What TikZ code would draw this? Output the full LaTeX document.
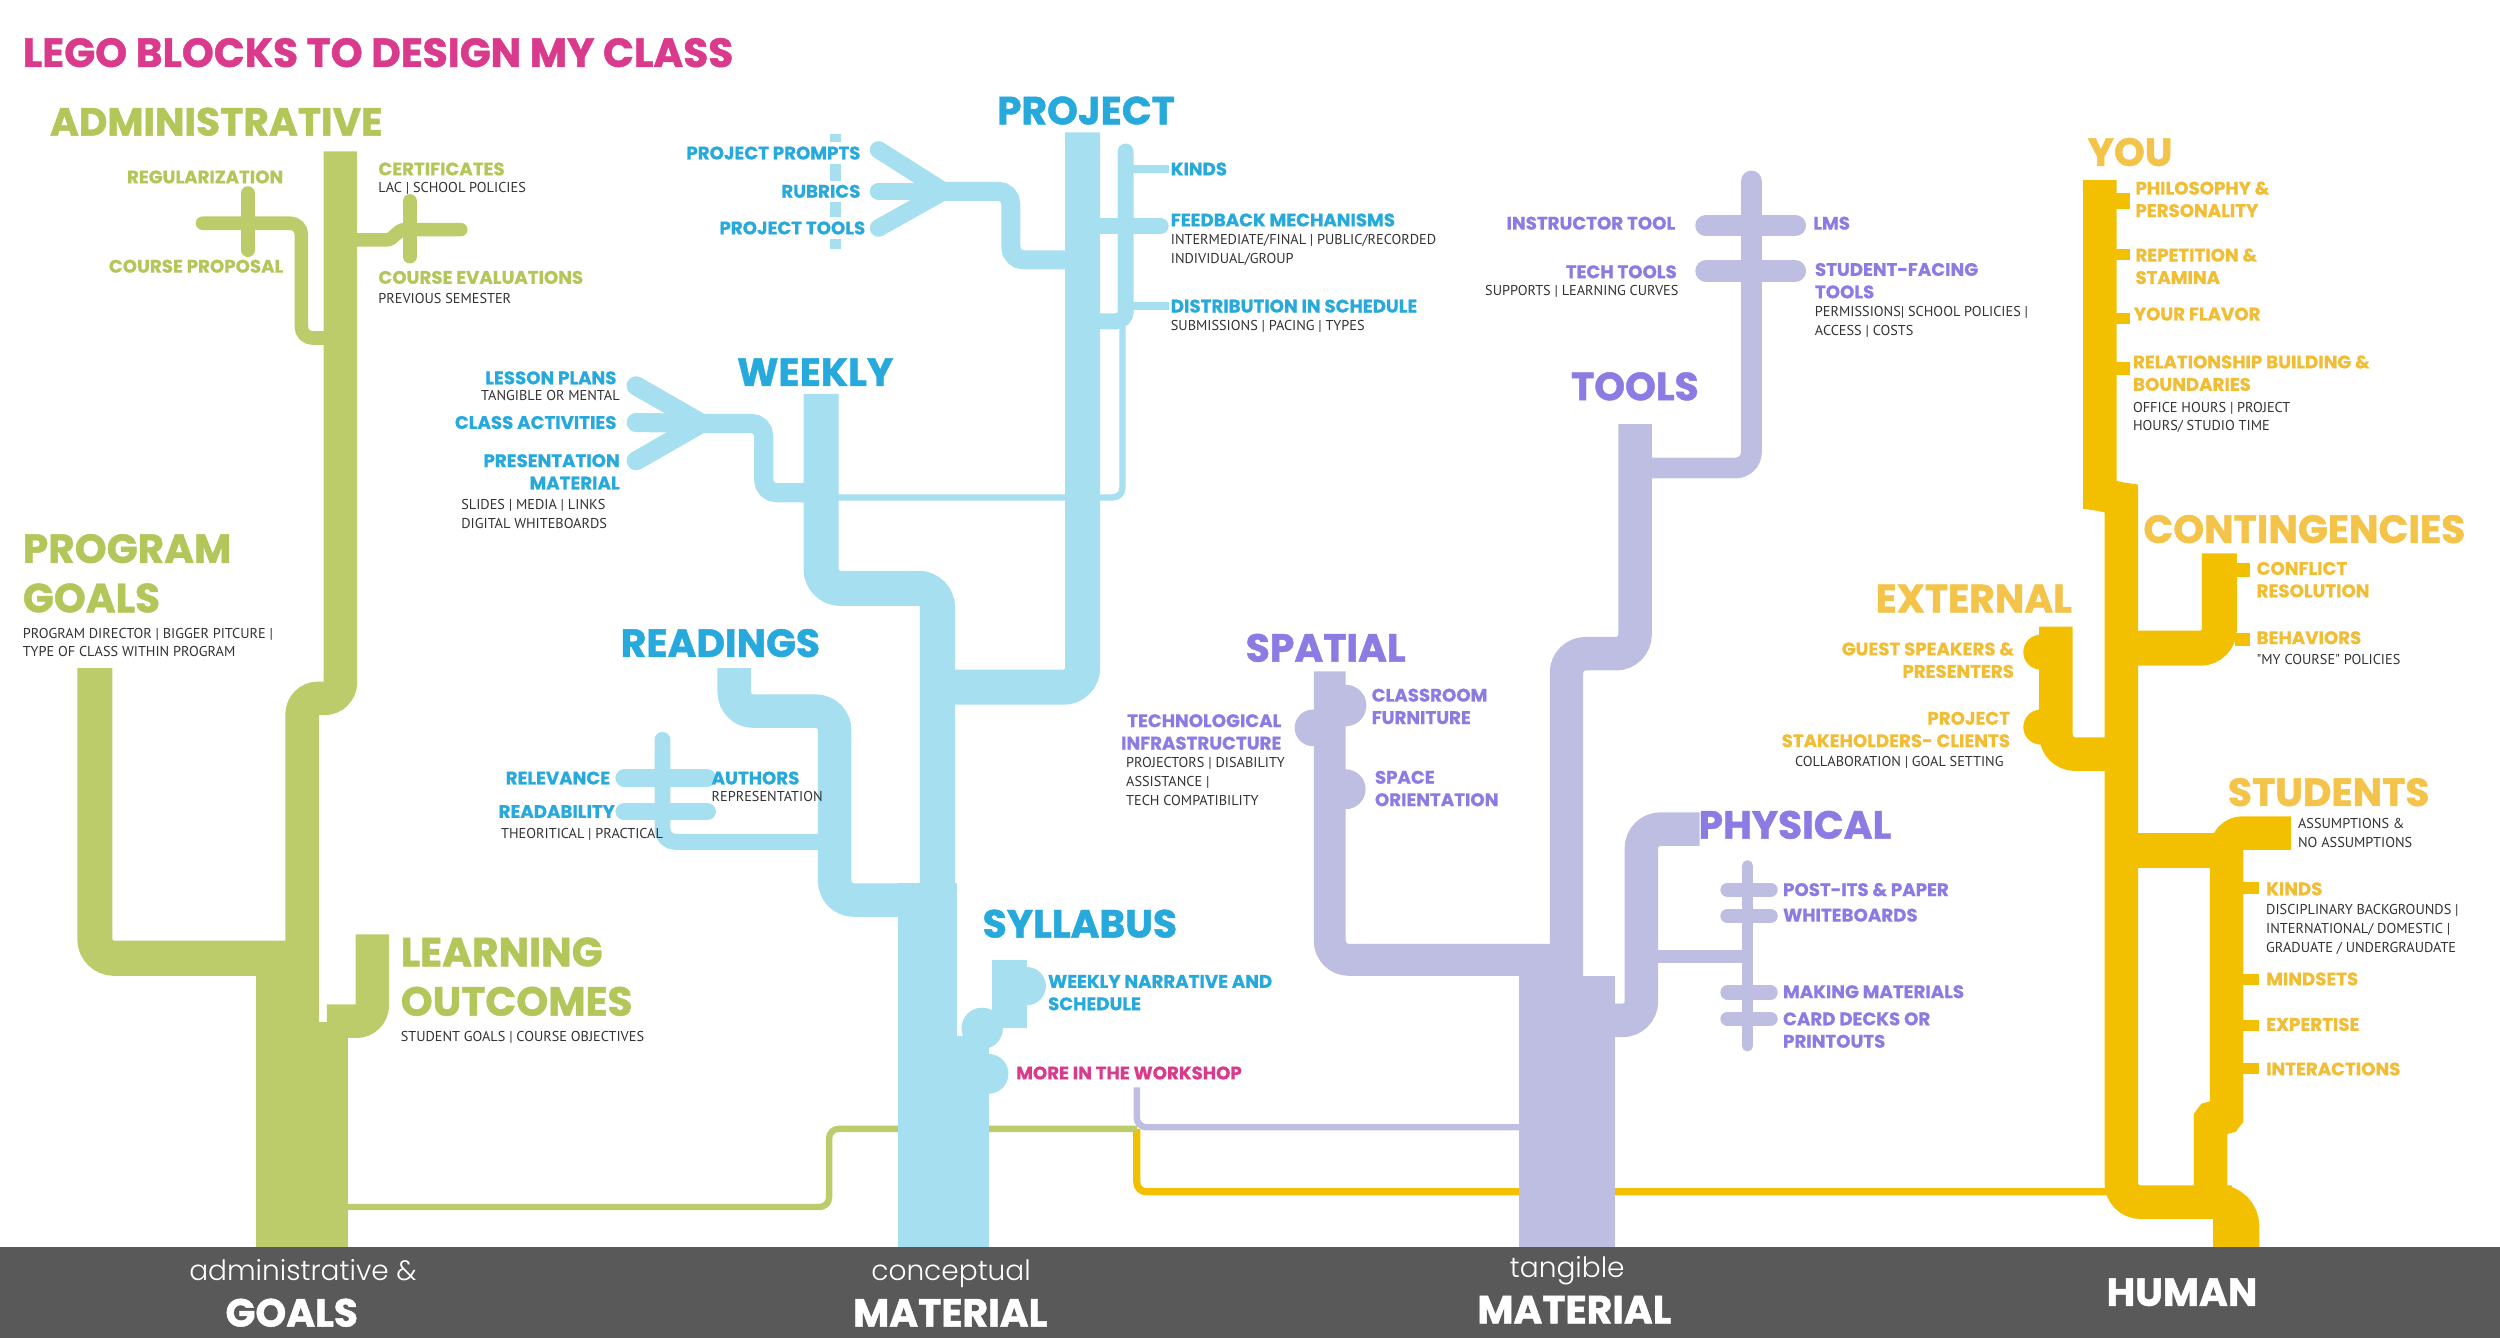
\documentclass[tikz,border=0pt]{standalone}
\usepackage{fontspec}
\setmainfont{Poppins}
\newfontfamily\subfont{PT Sans}
\newfontfamily\thinfont{Poppins Light}
\usetikzlibrary{positioning}

\definecolor{gpipe}{HTML}{BCCC6B}
\definecolor{gtxt}{HTML}{B3C65A}
\definecolor{bpipe}{HTML}{A6DFF0}
\definecolor{btxt}{HTML}{27A9DC}
\definecolor{ppipe}{HTML}{BDBEE1}
\definecolor{ptxt}{HTML}{8B7BE3}
\definecolor{ypipe}{HTML}{F2C000}
\definecolor{ytxt}{HTML}{F0BD35}
\definecolor{yhead}{HTML}{F4C44A}
\definecolor{pinktxt}{HTML}{DA3A8C}
\definecolor{bargray}{HTML}{595959}
\definecolor{subgray}{HTML}{333333}

\begin{document}
\begin{tikzpicture}[x=0.2mm, y=-0.2mm,
		pipe/.style={line width=#1*0.2mm},
		hd/.style={font=\bfseries\addfontfeature{FakeBold=1.2}\fontsize{14}{16}\selectfont, inner sep=0pt, anchor=base west},
		big/.style={font=\bfseries\addfontfeature{FakeBold=1.2}\fontsize{14.5}{17.6}\selectfont, inner sep=0pt, align=left, anchor=base west},
		lb/.style={font=\bfseries\addfontfeature{FakeBold=0.6}\fontsize{6.5}{8}\selectfont, inner sep=0pt, anchor=base west, align=left},
		glb/.style={lb, text=gtxt},
		blb/.style={lb, text=btxt},
		plb/.style={lb, text=ptxt},
		ylb/.style={lb, text=ytxt},
		sb/.style={font=\subfont\fontsize{5.1}{6.7}\selectfont, text=subgray, inner sep=0pt, anchor=base west, align=left},
		bartxt/.style={font=\bfseries\addfontfeature{FakeBold=1.2}\fontsize{14}{16}\selectfont, text=white, inner sep=0pt, anchor=base},
		barthin/.style={font=\thinfont\fontsize{10}{12}\selectfont, text=white, inner sep=0pt, anchor=base}]
	\useasboundingbox (0,0) rectangle (1568,839);

	% links along the bottom
	\draw[ypipe, pipe=4.5, rounded corners=1.2mm] (713,708) -- (713,747.5) -- (1330,747.5);
	\draw[ppipe, pipe=4, rounded corners=1.2mm] (713,682) -- (713,707) -- (960,707);
	\draw[gpipe, pipe=4, rounded corners=1.2mm] (215,757) -- (520,757) -- (520,708) -- (713,708);

	% green tree: goals
	\draw[gpipe, pipe=21, rounded corners=2mm] (213.5,95) -- (213.5,438) -- (189.5,438) -- (189.5,612);
	\draw[gpipe, pipe=22, rounded corners=2.4mm] (59.5,419) -- (59.5,601) -- (180,601);
	\fill[gpipe] (160.5,601) rectangle (200,782);
	\fill[gpipe] (160.5,641) rectangle (218,782);
	\draw[gpipe, pipe=21, rounded corners=2mm] (205,640.5) -- (233.5,640.5) -- (233.5,586);
	\draw[gpipe, pipe=8.5, line cap=round, rounded corners=1.4mm] (127,140) -- (189,140) -- (189,212) -- (206,212);
	\draw[gpipe, pipe=8.5, line cap=round] (155.5,121) -- (155.5,157);
	\draw[gpipe, pipe=8.5, line cap=round] (210,150.5) -- (242,150.5) to[out=0,in=180] (254,144) -- (289,144);
	\draw[gpipe, pipe=8.5, line cap=round] (257,126) -- (257,161);

	% blue tree: conceptual material
	\draw[bpipe, pipe=6.5] (524,84) -- (524,156);
	\foreach \yy in {94,120,143}
		\draw[bpipe, pipe=11, line cap=round] (551,\yy) -- (592,120);
	\draw[bpipe, pipe=12, rounded corners=1.6mm] (590,120) -- (634,120) -- (634,163) -- (675,163);
	\draw[bpipe, pipe=22, rounded corners=2.4mm] (679,83) -- (679,431) -- (595,431);
	\draw[bpipe, pipe=10, line cap=round, rounded corners=1.2mm] (706,95) -- (706,201.5) -- (685,201.5);
	\draw[bpipe, pipe=4, rounded corners=1.2mm] (704,200) -- (704,312) -- (520,312);
	\draw[bpipe, pipe=5] (706,106) -- (733,106);
	\draw[bpipe, pipe=10, line cap=round] (685,142) -- (728,142);
	\draw[bpipe, pipe=5] (706,192) -- (733,192);
	\foreach \yy in {242,265,289}
		\draw[bpipe, pipe=12, line cap=round] (399,\yy) -- (440,265.5);
	\draw[bpipe, pipe=12, rounded corners=1.6mm] (437,265.5) -- (479,265.5) -- (479,309) -- (510,309);
	\draw[bpipe, pipe=22, rounded corners=2.4mm] (515,247) -- (515,369) -- (588,369) -- (588,570);
	\draw[bpipe, pipe=21, rounded corners=2.4mm] (460.5,419) -- (460.5,446) -- (523.5,446) -- (523.5,564.5) -- (575,564.5);
	\draw[bpipe, pipe=10, line cap=round, rounded corners=1.6mm] (415.5,464) -- (415.5,528) -- (518,528);
	\foreach \yy in {488,509}
		\draw[bpipe, pipe=11, line cap=round] (391.5,\yy) -- (443.5,\yy);
	\fill[bpipe] (563,554) rectangle (600,782);
	\fill[bpipe] (563,650) rectangle (620,782);
	\fill[bpipe] (622,602) rectangle (644,645);
	\fill[bpipe] (644,618.5) circle (12);
	\fill[bpipe] (616,645) circle (13);
	\fill[bpipe] (620,673.5) circle (12.5);

	% purple tree: tangible material
	\draw[ppipe, pipe=13, rounded corners=2mm] (1026,293.5) -- (1098.5,293.5) -- (1098.5,113.5);
	\fill[ppipe] (1098.5,113.5) circle (6.5);
	\foreach \yy in {141.5,170}
		\draw[ppipe, pipe=13.5, line cap=round] (1070,\yy) -- (1126,\yy);
	\draw[ppipe, pipe=21, rounded corners=2.4mm] (1025.5,266) -- (1025.5,410) -- (982.5,410) -- (982.5,620);
	\draw[ppipe, pipe=20, rounded corners=2.4mm] (834,421) -- (834,602) -- (975,602);
	\fill[ppipe] (953,612) rectangle (1013,782);
	\fill[ppipe] (844,442.5) circle (13);
	\fill[ppipe] (823.5,456.5) circle (11.5);
	\fill[ppipe] (844,495) circle (12.5);
	\draw[ppipe, pipe=21, rounded corners=2.4mm] (1066,520) -- (1029.5,520) -- (1029.5,640) -- (1005,640);
	\draw[ppipe, pipe=7, line cap=round] (1096,543) -- (1096,656);
	\draw[ppipe, pipe=8] (1036,600) -- (1096,600);
	\foreach \yy in {558,574.5,622.5,639}
		\draw[ppipe, pipe=9, line cap=round] (1083.5,\yy) -- (1110.5,\yy);

	% yellow tree: human
	\draw[ypipe, pipe=21, rounded corners=2.4mm] (1317,113) -- (1317,298) to[out=-90,in=90] (1330.5,325) -- (1330.5,754) -- (1400,754);
	\draw[ypipe, pipe=22, rounded corners=3mm] (1390,754) -- (1406,754) -- (1406,782);
	\fill[ypipe] (1388,760) rectangle (1406,782);
	\draw[ypipe, pipe=21, rounded corners=2mm] (1386.5,754) -- (1386.5,712) .. controls (1386.5,700) and (1396.5,702) .. (1396.5,690) -- (1396.5,522.5) -- (1437,522.5);
	\draw[ypipe, pipe=22] (1331,533.5) -- (1396,533.5);
	\draw[ypipe, pipe=22, rounded corners=2.4mm] (1335,406.5) -- (1392,406.5) -- (1392,347);
	\draw[ypipe, pipe=21, rounded corners=2.4mm] (1289.5,393) -- (1289.5,473) -- (1332,473);
	\fill[ypipe] (1280,409) circle (11);
	\fill[ypipe] (1280,456) circle (11);
	\foreach \ya/\yb in {121/131,156/163,196/203,227/235}
		\fill[ypipe] (1327,\ya) rectangle (1336,\yb);
	\foreach \ya/\yb in {353/362,397/405}
		\fill[ypipe] (1402,\ya) rectangle (1411,\yb);
	\foreach \ya/\yb in {553/561,611/618,639.5/646.5,666.5/673.5}
		\fill[ypipe] (1406,\ya) rectangle (1417,\yb);

	% title
	\node[font=\bfseries\addfontfeature{FakeBold=1.2}\fontsize{14.5}{16}\selectfont, text=pinktxt, inner sep=0pt, anchor=base west] (title) at (14,42) {LEGO BLOCKS TO DESIGN MY CLASS};

	% green labels
	\node[hd, text=gtxt] (admin) at (31,85) {ADMINISTRATIVE};
	\node[glb, anchor=base east] (regul) at (178,115) {REGULARIZATION};
	\node[glb, anchor=base east] (proposal) at (178,171) {COURSE PROPOSAL};
	\node[glb] (certif) at (237,110) {CERTIFICATES};
	\node[sb] (certifsub) at (237,121) {LAC | SCHOOL POLICIES};
	\node[glb] (evals) at (237,178) {COURSE EVALUATIONS};
	\node[sb] (evalssub) at (237,190.5) {PREVIOUS SEMESTER};
	\node[big, text=gtxt] (goals) at (14,384) {PROGRAM\\GOALS};
	\node[sb] (goalssub) at (14,412) {PROGRAM DIRECTOR | BIGGER PITCURE |\\TYPE OF CLASS WITHIN PROGRAM};
	\node[big, text=gtxt] (outcomes) at (251,637) {LEARNING\\OUTCOMES};
	\node[sb] (outcomessub) at (251,653) {STUDENT GOALS | COURSE OBJECTIVES};

	% blue labels
	\node[hd, text=btxt] (project) at (625,78) {PROJECT};
	\node[blb, anchor=base east, fill=white, inner ysep=0.5mm] (prompts) at (540,100) {PROJECT PROMPTS};
	\node[blb, anchor=base east, fill=white, inner ysep=0.5mm] (rubrics) at (540,124) {RUBRICS};
	\node[blb, anchor=base east, fill=white, inner ysep=0.5mm] (ptools) at (543,147) {PROJECT TOOLS};
	\node[blb] (kinds) at (734,110) {KINDS};
	\node[blb] (feedback) at (734,142) {FEEDBACK MECHANISMS};
	\node[sb] (feedbacksub) at (734,165.3) {INTERMEDIATE/FINAL | PUBLIC/RECORDED\\INDIVIDUAL/GROUP};
	\node[blb] (distrib) at (734,196) {DISTRIBUTION IN SCHEDULE};
	\node[sb] (distribsub) at (734,207.5) {SUBMISSIONS | PACING | TYPES};
	\node[hd, text=btxt] (weekly) at (462,242) {WEEKLY};
	\node[blb, anchor=base east] (lesson) at (387,241) {LESSON PLANS};
	\node[sb, anchor=base east] (lessonsub) at (389,251) {TANGIBLE OR MENTAL};
	\node[blb, anchor=base east] (activities) at (387,269) {CLASS ACTIVITIES};
	\node[blb, anchor=base east, align=right] (present) at (389,307) {PRESENTATION\\MATERIAL};
	\node[sb] (presentsub) at (289,331.3) {SLIDES | MEDIA | LINKS\\DIGITAL WHITEBOARDS};
	\node[hd, text=btxt] (readings) at (389,412) {READINGS};
	\node[blb, anchor=base east] (relevance) at (383,492) {RELEVANCE};
	\node[blb, anchor=base east] (readab) at (386,513) {READABILITY};
	\node[sb] (readabsub) at (314,526) {THEORITICAL | PRACTICAL};
	\node[blb] (authors) at (446,492) {AUTHORS};
	\node[sb] (authorssub) at (446,502.5) {REPRESENTATION};
	\node[hd, text=btxt] (syllabus) at (616,588) {SYLLABUS};
	\node[blb] (narrative) at (657,633.6) {WEEKLY NARRATIVE AND\\SCHEDULE};
	\node[lb, text=pinktxt] (workshop) at (637,677) {MORE IN THE WORKSHOP};

	% purple labels
	\node[hd, text=ptxt] (tools) at (985,251) {TOOLS};
	\node[plb, anchor=base east] (instr) at (1051,144) {INSTRUCTOR TOOL};
	\node[plb] (lms) at (1137,144) {LMS};
	\node[plb, anchor=base east] (tech) at (1052,174.5) {TECH TOOLS};
	\node[sb, anchor=base east] (techsub) at (1053,185.5) {SUPPORTS | LEARNING CURVES};
	\node[plb] (studfacing) at (1138,187.1) {STUDENT-FACING\\TOOLS};
	\node[sb] (studfacingsub) at (1138,210.3) {PERMISSIONS| SCHOOL POLICIES |\\ACCESS | COSTS};
	\node[hd, text=ptxt] (spatial) at (781,415) {SPATIAL};
	\node[plb] (furniture) at (860,454.1) {CLASSROOM\\FURNITURE};
	\node[plb, anchor=base east, align=right] (infra) at (804,470.1) {TECHNOLOGICAL\\INFRASTRUCTURE};
	\node[sb] (infrasub) at (706,505.1) {PROJECTORS | DISABILITY\\ASSISTANCE |\\TECH COMPATIBILITY};
	\node[plb] (orient) at (862,505.6) {SPACE\\ORIENTATION};
	\node[hd, text=ptxt] (physical) at (1065,526) {PHYSICAL};
	\node[plb] (postits) at (1118,562) {POST-ITS \& PAPER};
	\node[plb] (boards) at (1118,578) {WHITEBOARDS};
	\node[plb] (making) at (1118,626) {MAKING MATERIALS};
	\node[plb] (decks) at (1118,657.1) {CARD DECKS OR\\PRINTOUTS};

	% yellow labels
	\node[hd, text=yhead] (you) at (1309,104) {YOU};
	\node[ylb] (philo) at (1339,136.1) {PHILOSOPHY \&\\PERSONALITY};
	\node[ylb] (repet) at (1339,178.1) {REPETITION \&\\STAMINA};
	\node[ylb] (flavor) at (1338,201) {YOUR FLAVOR};
	\node[ylb] (relation) at (1337.5,245.1) {RELATIONSHIP BUILDING \&\\BOUNDARIES};
	\node[sb] (relationsub) at (1337.5,270.3) {OFFICE HOURS | PROJECT\\HOURS/ STUDIO TIME};
	\node[hd, text=yhead] (conting) at (1344,340.5) {CONTINGENCIES};
	\node[ylb] (conflict) at (1415,374.6) {CONFLICT\\RESOLUTION};
	\node[ylb] (behav) at (1415,404) {BEHAVIORS};
	\node[sb] (behavsub) at (1415,416.5) {"MY COURSE" POLICIES};
	\node[hd, text=yhead] (external) at (1176,384) {EXTERNAL};
	\node[ylb, anchor=base east, align=right] (guest) at (1263.5,425.1) {GUEST SPEAKERS \&\\PRESENTERS};
	\node[ylb, anchor=base east, align=right] (stake) at (1261,468.6) {PROJECT\\STAKEHOLDERS- CLIENTS};
	\node[sb, anchor=base east] (stakesub) at (1257,481) {COLLABORATION | GOAL SETTING};
	\node[hd, text=yhead] (students) at (1397,505.5) {STUDENTS};
	\node[sb] (assume) at (1441,531.3) {ASSUMPTIONS \&\\NO ASSUMPTIONS};
	\node[ylb] (skinds) at (1421,561.5) {KINDS};
	\node[sb] (skindssub) at (1421,597.1) {DISCIPLINARY BACKGROUNDS |\\INTERNATIONAL/ DOMESTIC |\\GRADUATE / UNDERGRAUDATE};
	\node[ylb] (mindsets) at (1421,618) {MINDSETS};
	\node[ylb] (expertise) at (1421,646.5) {EXPERTISE};
	\node[ylb] (interact) at (1421,674.5) {INTERACTIONS};

	% bottom bar
	\fill[bargray] (0,782) rectangle (1568,839);
	\node[barthin] (admamp) at (190,803) {administrative \&};
	\node[bartxt] (goalsbar) at (183,832) {GOALS};
	\node[barthin] (concept) at (596.5,803) {conceptual};
	\node[bartxt] (matconc) at (596,832) {MATERIAL};
	\node[barthin] (tangible) at (983,801) {tangible};
	\node[bartxt] (mattang) at (987.5,830) {MATERIAL};
	\node[bartxt] (human) at (1368.5,819) {HUMAN};
\end{tikzpicture}
\end{document}
